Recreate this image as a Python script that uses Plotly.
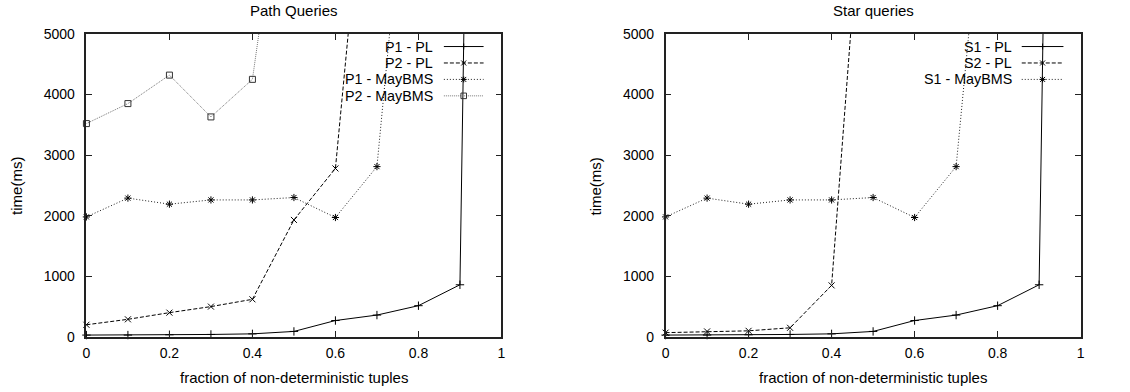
import plotly.graph_objects as go

W, H = 1130, 392
FONT = "Liberation Sans, Arial, sans-serif"

# ---------------- data ----------------
x_vals = [0.0, 0.1, 0.2, 0.3, 0.4, 0.5, 0.6, 0.7, 0.8, 0.9, 1.0]

# Path queries
p1_pl = [30, 30, 35, 40, 50, 90, 270, 360, 515, 860, 45000]
p2_pl = [200, 290, 400, 500, 620, 1930, 2780, 10000]
p1_maybms = [1980, 2290, 2190, 2260, 2260, 2300, 1970, 2810, 10000]
p2_maybms = [3520, 3850, 4320, 3630, 4250, 9100]

# Star queries
s1_pl = [30, 30, 35, 40, 50, 90, 270, 360, 515, 860, 45000]
s2_pl = [70, 90, 100, 150, 850, 9900]
s1_maybms = [1980, 2290, 2190, 2260, 2260, 2300, 1970, 2810, 10000]

x_ticks = [0, 0.2, 0.4, 0.6, 0.8, 1]
x_tick_labels = ["0", "0.2", "0.4", "0.6", "0.8", "1"]
y_ticks = [0, 1000, 2000, 3000, 4000, 5000]
y_tick_labels = ["0", "1000", "2000", "3000", "4000", "5000"]

titles = ["Path Queries", "Star queries"]
x_title = "fraction of non-deterministic tuples"
y_title = "time(ms)"

# ---------------- styles ----------------
styles = {
    "solid": dict(line=dict(color="#000000", width=1), symbol="cross-thin-open"),
    "dash": dict(line=dict(color="#000000", width=1, dash="4px,2px"), symbol="x-thin-open"),
    "dot": dict(line=dict(color="#222222", width=1, dash="1px,2px"), symbol="asterisk-open"),
    "gray": dict(line=dict(color="#777777", width=1, dash="1px,1px"), symbol="square-open"),
}

# the rendered page shows a small vertical offset/scale; compensate for it
V_OFF, V_SCALE = 7.3, 0.963


def px_x(p):
    return p / W


def px_y(p):
    return 1 - ((p - V_OFF) / V_SCALE) / H


left_dom = [px_x(83), px_x(501)]
right_dom = [px_x(666.3), px_x(1084.3)]
y_dom = [px_y(337.5), px_y(33.3)]

fig = go.Figure()

series_left = [("P1 - PL", p1_pl, "solid"), ("P2 - PL", p2_pl, "dash"),
               ("P1 - MayBMS", p1_maybms, "dot"), ("P2 - MayBMS", p2_maybms, "gray")]
series_right = [("S1 - PL", s1_pl, "solid"), ("S2 - PL", s2_pl, "dash"),
                ("S1 - MayBMS", s1_maybms, "dot")]


def add_series(series, xa, ya):
    for name, vals, st in series:
        s = styles[st]
        mcol = "#333333" if st == "gray" else "#000000"
        fig.add_trace(go.Scatter(
            x=x_vals[:len(vals)], y=vals, name=name, mode="lines+markers",
            line=s["line"],
            marker=dict(symbol=s["symbol"], size=6, color=mcol,
                        line=dict(color=mcol, width=1)),
            xaxis=xa, yaxis=ya, showlegend=False, cliponaxis=False,
        ))


add_series(series_left, "x", "y")
add_series(series_right, "x2", "y2")

axis_common = dict(
    showline=True, linecolor="#222222", linewidth=1.5, mirror="ticks",
    ticks="inside", ticklen=6, tickcolor="#222222", tickwidth=1,
    showgrid=False, zeroline=False,
    tickfont=dict(family=FONT, size=14, color="#000000"),
)

fig.update_layout(
    width=W, height=H, autosize=False,
    margin=dict(l=0, r=0, t=0, b=0, pad=0),
    paper_bgcolor="white", plot_bgcolor="white",
    showlegend=False,
    xaxis=dict(domain=left_dom, range=[0, 1], tickvals=x_ticks, ticktext=x_tick_labels,
               anchor="y", ticklabelstandoff=3, **axis_common),
    yaxis=dict(domain=y_dom, range=[0, 5000], tickvals=y_ticks, ticktext=y_tick_labels,
               anchor="x", ticklabelstandoff=7, **axis_common),
    xaxis2=dict(domain=right_dom, range=[0, 1], tickvals=x_ticks, ticktext=x_tick_labels,
                anchor="y2", ticklabelstandoff=3, **axis_common),
    yaxis2=dict(domain=y_dom, range=[0, 5000], tickvals=y_ticks, ticktext=y_tick_labels,
                anchor="x2", ticklabelstandoff=7, **axis_common),
)

annotations = []
shapes = []
txt = dict(family=FONT, size=14.3, color="#000000")
title_font = dict(family=FONT, size=15, color="#000000")

# titles and axis titles
for cx, t, ylab_x in [(292, titles[0], 13), (875.3, titles[1], 596.7)]:
    annotations.append(dict(x=px_x(cx), y=px_y(10), xref="paper", yref="paper", text=t,
                            showarrow=False, font=title_font, xanchor="center", yanchor="middle"))
    annotations.append(dict(x=px_x(cx), y=px_y(378), xref="paper", yref="paper", text=x_title,
                            showarrow=False, font=title_font, xanchor="center", yanchor="middle"))
    annotations.append(dict(x=px_x(ylab_x), y=px_y(186), xref="paper", yref="paper", text=y_title,
                            showarrow=False, font=title_font, xanchor="center", yanchor="middle",
                            textangle=-90))


def marker_shapes(st, cx, cy, color):
    out = []
    r = 3
    line = dict(color=color, width=1)
    if st in ("solid", "dot"):
        out.append(dict(type="line", x0=px_x(cx - r), x1=px_x(cx + r), y0=px_y(cy), y1=px_y(cy)))
        out.append(dict(type="line", x0=px_x(cx), x1=px_x(cx), y0=px_y(cy - r), y1=px_y(cy + r)))
    if st in ("dash", "dot"):
        q = 2.5
        out.append(dict(type="line", x0=px_x(cx - q), x1=px_x(cx + q), y0=px_y(cy - q), y1=px_y(cy + q)))
        out.append(dict(type="line", x0=px_x(cx - q), x1=px_x(cx + q), y0=px_y(cy + q), y1=px_y(cy - q)))
    if st == "gray":
        q = 2.8
        out.append(dict(type="rect", x0=px_x(cx - q), x1=px_x(cx + q), y0=px_y(cy - q), y1=px_y(cy + q),
                        fillcolor="rgba(0,0,0,0)"))
    for o in out:
        o.update(xref="paper", yref="paper", line=line)
    return out


def add_legend(series, text_right, l0, l1):
    mx = (l0 + l1) / 2
    for i, (name, vals, st) in enumerate(series):
        yy = 46 + 16.5 * i
        s = styles[st]
        annotations.append(dict(x=px_x(text_right), y=px_y(yy), xref="paper", yref="paper",
                                text=name, showarrow=False, font=txt,
                                xanchor="right", yanchor="middle"))
        shapes.append(dict(type="line", xref="paper", yref="paper",
                           x0=px_x(l0), x1=px_x(l1), y0=px_y(yy), y1=px_y(yy),
                           line=dict(color=s["line"]["color"], width=1,
                                     dash=s["line"].get("dash", "solid"))))
        mcol = "#333333" if st == "gray" else "#000000"
        shapes.extend(marker_shapes(st, mx, yy, mcol))


add_legend(series_left, 434, 443, 483)
add_legend(series_right, 1017, 1025, 1067)

fig.update_layout(annotations=annotations, shapes=shapes)

fig.write_html(
    "out.html",
    config={"displayModeBar": False, "responsive": False},
    post_script=(
        "document.documentElement.style.margin='0';"
        "document.documentElement.style.padding='0';"
        "document.documentElement.style.overflow='hidden';"
        "document.body.style.margin='0';"
        "document.body.style.padding='0';"
        "document.body.style.overflow='hidden';"
    ),
)
